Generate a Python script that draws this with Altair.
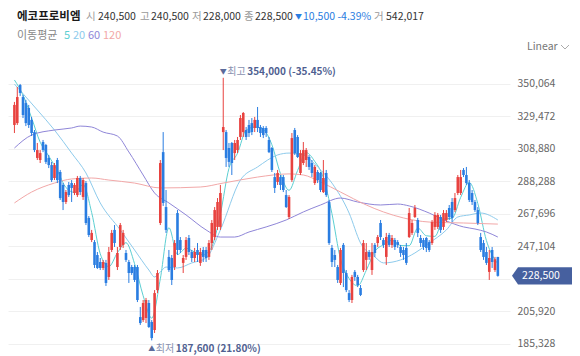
import altair as alt
import pandas as pd

FONT = "Noto Sans CJK KR"
RED = "#e8423f"
BLUE = "#2a7de1"
NAVY = "#4f5f91"

NAME = "에코프로비엠"
VOLUME = 542017

# candle values in thousand won
opens = [324.1, 325.3, 349.4, 341.8, 338.0, 334.9, 327.3, 319.6, 303.2, 301.9,
         313.3, 311.4, 303.2, 298.7, 290.5, 301.9, 294.3, 286.1, 275.3, 286.1,
         287.3, 281.0, 279.7, 290.5, 278.5, 287.3, 265.2, 251.2, 249.9, 241.7,
         237.3, 233.5, 236.7, 227.8, 244.9, 257.6, 234.1, 246.8, 248.1, 243.0,
         237.3, 234.1, 234.1, 234.1, 202.4, 200.5, 201.8, 211.3, 199.3, 194.2,
         219.5, 262.0, 306.9, 272.1, 240.5, 239.8, 234.1, 268.3, 251.2, 236.7,
         240.5, 252.5, 243.6, 239.8, 244.9, 236.7, 244.9, 244.9, 240.5, 249.3,
         253.1, 259.5, 259.5, 319.6, 319.6, 309.5, 312.7, 306.3, 308.2, 316.5,
         319.6, 320.9, 324.1, 325.3, 322.2, 327.3, 322.8, 322.2, 322.2, 314.6,
         309.5, 291.1, 288.0, 291.1, 291.1, 279.7, 265.8, 289.2, 320.9, 316.5,
         293.7, 300.0, 301.9, 303.8, 300.0, 287.3, 294.3, 293.7, 281.6, 293.7,
         275.3, 246.2, 241.7, 234.1, 224.0, 248.1, 230.3, 217.6, 213.2, 231.0,
         227.8, 220.8, 232.2, 238.6, 243.6, 232.2, 248.1, 249.3, 262.0, 251.2,
         240.5, 254.4, 248.1, 251.2, 249.9, 246.8, 244.9, 246.2, 253.1, 255.7,
         265.8, 263.9, 252.5, 251.2, 252.5, 249.9, 249.3, 259.5, 259.5, 265.8,
         259.5, 263.9, 271.5, 275.3, 270.2, 281.0, 281.0, 295.6, 292.4, 287.3,
         281.0, 275.3, 270.2, 253.1, 249.3, 243.6, 231.0, 244.9, 232.2, 240.5]
highs = [338.7, 348.2, 350.1, 343.1, 340.0, 336.8, 329.2, 320.9, 312.7, 308.2,
         314.6, 312.1, 305.1, 300.7, 300.0, 303.2, 295.6, 287.3, 282.9, 288.0,
         289.2, 287.3, 291.8, 291.8, 290.5, 288.6, 266.4, 257.6, 251.2, 243.6,
         239.8, 238.6, 238.6, 246.8, 257.6, 260.7, 246.8, 262.0, 257.6, 244.9,
         238.6, 235.4, 235.4, 235.4, 208.8, 213.2, 214.5, 213.2, 200.5, 219.5,
         232.2, 301.9, 319.6, 282.9, 244.9, 241.7, 251.2, 270.2, 253.1, 241.7,
         253.1, 254.4, 244.9, 246.2, 249.3, 246.2, 246.8, 246.8, 251.2, 263.9,
         272.1, 277.8, 286.1, 354.0, 320.9, 312.7, 313.3, 314.6, 316.5, 330.4,
         332.3, 322.8, 327.3, 328.5, 329.2, 335.5, 324.1, 323.4, 323.4, 316.5,
         310.1, 293.7, 295.6, 292.4, 292.4, 282.9, 279.7, 319.0, 322.2, 317.7,
         308.2, 313.3, 309.5, 305.1, 301.9, 298.7, 295.6, 294.3, 301.9, 295.6,
         276.6, 248.1, 244.9, 235.4, 246.2, 249.3, 232.2, 219.5, 229.1, 232.2,
         229.1, 222.7, 251.2, 249.3, 244.9, 249.3, 249.3, 254.4, 263.9, 252.5,
         255.7, 255.7, 254.4, 252.5, 251.2, 248.1, 246.8, 249.3, 271.5, 263.9,
         273.4, 265.2, 254.4, 252.5, 253.1, 251.2, 263.9, 268.9, 268.3, 267.1,
         270.2, 270.2, 273.4, 277.8, 281.0, 292.4, 295.6, 296.8, 297.5, 289.2,
         282.9, 276.6, 272.1, 255.7, 251.2, 246.8, 244.9, 246.8, 240.5, 240.5]
lows = [319.0, 324.1, 342.5, 328.5, 323.4, 322.2, 317.1, 306.9, 301.9, 300.0,
        306.9, 299.4, 296.8, 288.0, 289.2, 287.3, 276.6, 270.2, 274.0, 278.5,
        275.3, 279.7, 278.5, 279.7, 276.6, 260.7, 253.1, 249.9, 233.5, 232.9,
        232.2, 232.2, 222.1, 225.9, 243.6, 246.8, 232.2, 244.9, 246.2, 237.3,
        224.0, 229.1, 224.6, 211.9, 197.4, 199.3, 198.6, 195.5, 187.6, 192.3,
        217.6, 260.7, 272.8, 255.7, 231.0, 222.7, 232.2, 241.7, 243.0, 230.3,
        238.6, 241.7, 237.3, 237.3, 237.3, 234.8, 237.3, 237.3, 238.6, 244.9,
        251.2, 257.6, 257.6, 308.2, 297.5, 297.5, 292.4, 301.9, 306.3, 314.6,
        316.5, 314.6, 316.5, 317.7, 319.6, 319.6, 316.5, 315.8, 316.5, 306.3,
        294.3, 281.0, 286.1, 282.9, 281.6, 271.5, 264.5, 288.0, 305.1, 303.2,
        292.4, 298.7, 297.5, 295.6, 291.1, 286.1, 287.3, 281.6, 281.0, 278.5,
        248.1, 234.1, 234.1, 224.0, 222.7, 221.4, 218.2, 211.9, 211.3, 225.3,
        221.4, 215.7, 231.0, 232.2, 238.6, 229.1, 240.5, 246.8, 251.2, 246.2,
        235.4, 246.8, 246.2, 244.9, 246.2, 240.5, 238.6, 235.4, 252.5, 254.4,
        265.2, 253.1, 246.8, 244.9, 243.6, 243.6, 248.1, 257.6, 258.2, 255.7,
        257.6, 262.6, 263.9, 262.6, 268.9, 279.7, 279.7, 291.1, 286.1, 275.3,
        273.4, 269.0, 260.7, 243.6, 238.6, 235.4, 225.9, 233.5, 231.0, 228.0]
closes = [336.8, 341.8, 344.4, 330.4, 325.3, 324.1, 319.0, 308.2, 308.2, 306.3,
          308.2, 300.7, 298.7, 289.2, 298.7, 289.2, 277.8, 275.3, 281.6, 279.7,
          284.2, 286.1, 290.5, 281.6, 289.2, 262.0, 254.4, 255.7, 235.4, 233.5,
          233.5, 237.3, 224.0, 243.6, 255.7, 249.3, 243.0, 260.7, 255.7, 238.6,
          230.3, 230.3, 225.9, 213.2, 198.6, 211.3, 213.2, 196.1, 189.1, 217.6,
          230.3, 300.0, 274.7, 257.6, 232.2, 225.9, 249.3, 244.9, 244.9, 239.8,
          251.2, 243.6, 239.8, 243.6, 241.7, 243.6, 240.5, 239.8, 249.3, 262.0,
          270.2, 275.3, 281.0, 322.8, 303.2, 300.7, 300.0, 312.7, 314.6, 328.5,
          331.7, 316.5, 319.0, 319.6, 327.3, 322.2, 319.0, 317.7, 319.0, 306.9,
          295.6, 284.2, 293.7, 286.1, 282.9, 272.1, 278.5, 315.8, 306.3, 303.8,
          306.3, 308.2, 308.2, 297.5, 293.7, 297.5, 289.2, 282.9, 290.5, 279.7,
          249.3, 237.3, 238.6, 225.9, 244.9, 230.3, 219.5, 213.2, 227.8, 227.8,
          222.7, 216.4, 249.3, 243.6, 240.5, 243.6, 243.0, 253.1, 253.1, 248.1,
          253.1, 248.1, 252.5, 246.8, 248.1, 243.0, 241.7, 236.7, 268.3, 262.0,
          271.5, 255.7, 249.3, 246.8, 246.2, 244.9, 262.6, 267.1, 267.1, 257.6,
          268.3, 268.3, 265.8, 265.2, 277.8, 291.1, 291.1, 292.4, 287.3, 276.6,
          275.3, 270.2, 262.0, 244.9, 240.5, 236.7, 239.8, 237.3, 239.0, 228.5]

# moving averages (candle index, thousand won)
ma5_idx = [0, 3, 6, 9, 12, 15, 18, 21, 24, 27, 30, 33, 36, 39, 42, 45, 48, 51, 54, 57,
           60, 63, 66, 69, 72, 75, 78, 81, 84, 87, 90, 93, 96, 99, 102, 105, 108, 111,
           114, 117, 120, 123, 126, 129, 132, 135, 138, 141, 144, 147, 150, 153, 156,
           159, 162, 165, 168, 169]
ma5_val = [352.6, 343.0, 328.6, 313.2, 304.4, 295.3, 284.5, 281.4, 286.3, 268.6, 242.5,
           234.4, 243.1, 249.5, 236.2, 215.9, 201.7, 226.6, 259.0, 242.0, 246.0, 243.6,
           241.8, 247.0, 267.6, 296.6, 306.2, 320.8, 322.8, 321.2, 311.6, 293.3, 282.7,
           295.3, 306.6, 301.0, 290.8, 267.9, 239.2, 226.8, 222.2, 232.0, 244.0, 248.2,
           251.0, 247.7, 247.6, 258.8, 253.9, 253.5, 264.5, 265.0, 278.2, 287.7, 274.3,
           250.9, 238.7, 236.3]
ma20_idx = [0, 8, 14, 20, 25, 30, 37, 42, 47, 49, 51, 53, 57, 62, 67, 72, 79, 85, 92,
            96, 101, 106, 111, 117, 121, 126, 129, 135, 140, 145, 151, 155, 159, 163, 169]
ma20_val = [350.0, 333.6, 320.9, 306.3, 293.7, 274.7, 257.6, 244.9, 232.2, 227.8, 231.0,
            234.1, 233.5, 236.7, 239.8, 257.6, 289.2, 297.5, 305.1, 306.3, 305.1, 297.5,
            287.3, 268.3, 249.3, 240.5, 236.7, 238.6, 243.0, 249.3, 257.6, 265.8, 267.1,
            268.3, 263.9]
ma60_idx = [0, 6, 14, 20, 23, 27, 31, 36, 40, 45, 49, 54, 60, 67, 72, 77, 82, 88, 95,
            101, 107, 114, 120, 128, 134, 138, 145, 151, 157, 161, 165, 169]
ma60_val = [309.5, 317.7, 320.9, 322.2, 323.4, 322.8, 319.6, 317.1, 307.0, 292.4, 281.0,
            274.7, 267.1, 257.6, 253.1, 253.1, 256.3, 259.5, 263.9, 269.0, 273.4, 277.8,
            275.3, 273.4, 274.0, 272.8, 268.3, 263.3, 259.5, 258.2, 256.3, 253.1]
ma120_idx = [0, 6, 14, 20, 27, 33, 42, 51, 65, 73, 85, 96, 101, 107, 114, 123, 129, 136,
             145, 157, 169]
ma120_val = [274.7, 281.6, 287.3, 289.9, 290.5, 289.2, 287.3, 284.2, 284.8, 287.3, 291.1,
             293.1, 292.4, 288.0, 281.6, 273.4, 269.0, 265.2, 262.6, 262.0, 261.3]

ma_names = ["5", "20", "60", "120"]
ma_colors = ["#5ccfd2", "#8ecbec", "#8f86d8", "#f2a8a8"]

TICKS = [185328, 205920, 226512, 247104, 267696, 288288, 308880, 329472, 350064]

K = 1000
n = len(closes)
candles = pd.DataFrame({
    "i": list(range(n)),
    "o": [v * K for v in opens],
    "h": [v * K for v in highs],
    "l": [v * K for v in lows],
    "c": [v * K for v in closes],
})
up = candles[candles.c >= candles.o]
down = candles[candles.c < candles.o]

rows = []
for name, idx, val in [("5", ma5_idx, ma5_val), ("20", ma20_idx, ma20_val),
                       ("60", ma60_idx, ma60_val), ("120", ma120_idx, ma120_val)]:
    for a, b in zip(idx, val):
        rows.append({"i": a, "v": b * K, "ma": name})
ma_df = pd.DataFrame(rows)

last = closes[-1] * K

xs = alt.Scale(domain=[-0.5, n + 1.5], nice=False, zero=False)
ys = alt.Scale(domain=[180259, 358934], nice=False, zero=False)
yaxis = alt.Axis(orient="right", values=TICKS, format=",d", title=None, ticks=False,
                 domain=False, labelPadding=7, labelFont=FONT, labelFontSize=10.5,
                 labelColor="#666", gridColor="#f0f0f0", labelOverlap=False,
                 labelFlush=False,
                 labelExpr=f"abs(datum.value - {last}) < 5000 ? '' : datum.label")


def X(field):
    return alt.X(field, type="quantitative", scale=xs, axis=None)


def Y(field):
    return alt.Y(field, type="quantitative", scale=ys, axis=yaxis)


lines = alt.Chart(ma_df).mark_line(strokeWidth=1, interpolate="monotone").encode(
    x=X("i"), y=Y("v"),
    color=alt.Color("ma:N", scale=alt.Scale(domain=ma_names, range=ma_colors), legend=None),
    detail="ma:N",
)


def candle_layers(df, color):
    w = alt.Chart(df).mark_rule(strokeWidth=1, color=color).encode(x=X("i"), y=Y("l"), y2="h")
    b = alt.Chart(df).mark_bar(size=2.6, color=color).encode(x=X("i"), y=Y("o"), y2="c")
    return [w, b]


# annotations for highest / lowest
hi_i = highs.index(max(highs))
lo_i = lows.index(min(lows))
hi_v = highs[hi_i] * K
lo_v = lows[lo_i] * K
hi_df = pd.DataFrame({"i": [hi_i], "v": [hi_v]})
lo_df = pd.DataFrame({"i": [lo_i], "v": [lo_v]})
hi_txt = f"{hi_v:,.0f} ({(last - hi_v) / hi_v * 100:.2f}%)"
lo_txt = f"{lo_v:,.0f} ({(last - lo_v) / lo_v * 100:.2f}%)"


def anno(df, text, dx, dy, color, size, weight="normal", align="left"):
    return alt.Chart(df).mark_text(text=text, dx=dx, dy=dy, align=align, baseline="middle",
                                   font=FONT, fontSize=size, fontWeight=weight,
                                   color=color).encode(x=X("i"), y=Y("v"))


annos = [
    anno(hi_df, "▼", 0, -6, "#5b6b9b", 7, align="center"),
    anno(hi_df, "최고", 4, -6, "#8891b0", 10),
    anno(hi_df, hi_txt, 24, -6, NAVY, 10, "bold"),
    anno(lo_df, "▲", 0, 9, "#5b6b9b", 7, align="center"),
    anno(lo_df, "최저", 4, 9, "#8891b0", 10),
    anno(lo_df, lo_txt, 24, 9, NAVY, 10, "bold"),
]

# price badge
badge_df = pd.DataFrame({"v": [last]})
BADGE = "M-1,0 L-0.8,-0.285 L1,-0.285 L1,0.285 L-0.8,0.285 Z"
badge = alt.Chart(badge_df).mark_point(shape=BADGE, size=3600, filled=True, fill="#46609f",
                                       opacity=1, strokeWidth=0).encode(
    x=alt.value(534), y=Y("v"))
badge_txt = alt.Chart(badge_df).mark_text(font=FONT, fontSize=10.5, color="white",
                                          baseline="middle", align="center").encode(
    x=alt.value(533), y=Y("v"), text=alt.Text("v:Q", format=",d"))

one = pd.DataFrame({"k": [0]})


def label(text, px, py, color, size=10.5, weight="normal"):
    return alt.Chart(one).mark_text(text=text, align="left", baseline="middle", font=FONT,
                                    fontSize=size, fontWeight=weight, color=color).encode(
        x=alt.value(px), y=alt.value(py))


chg = closes[-1] - closes[-2]
pct = chg / closes[-2] * 100
GRAY = "#9a9a9a"
DARK = "#333333"
R1 = -53
R2 = -34
header = [
    label(NAME, 9, R1, "#1a1a1a", 11.5, "bold"),
    label("시", 78, R1, GRAY), label(f"{opens[-1] * K:,.0f}", 90, R1, DARK),
    label("고", 132, R1, GRAY), label(f"{highs[-1] * K:,.0f}", 143, R1, DARK),
    label("저", 184, R1, GRAY), label(f"{lows[-1] * K:,.0f}", 195, R1, DARK),
    label("종", 236, R1, GRAY), label(f"{closes[-1] * K:,.0f}", 247, R1, DARK),
    label("▼", 287, R1, BLUE, 7),
    label(f"{abs(chg) * K:,.0f} {pct:.2f}%", 295, R1, BLUE),
    label("거", 366, R1, GRAY), label(f"{VOLUME:,}", 378, R1, DARK),
    label("이동평균", 9, R2, "#888888", 11),
    label(ma_names[0], 56, R2, ma_colors[0], 11),
    label(ma_names[1], 65, R2, ma_colors[1], 11),
    label(ma_names[2], 80, R2, ma_colors[2], 11),
    label(ma_names[3], 95, R2, ma_colors[3], 11),
    label("Linear", 519, -23, "#777777"),
]
chevron = alt.Chart(one).mark_point(shape="M-1,-0.5 L0,0.5 L1,-0.5", filled=False, size=64,
                                    stroke="#888888", strokeWidth=1).encode(
    x=alt.value(557), y=alt.value(-23))

chart = alt.layer(lines, *candle_layers(up, RED), *candle_layers(down, BLUE), *annos,
                  badge, badge_txt, *header, chevron).properties(
    width=502, height=282,
    autosize=alt.AutoSizeParams(type="none"),
    padding={"left": 0, "top": 62, "right": 62, "bottom": 4},
    background="white",
).configure_view(stroke=None)

chart.save("out.html", embed_options={"renderer": "svg", "actions": False})
